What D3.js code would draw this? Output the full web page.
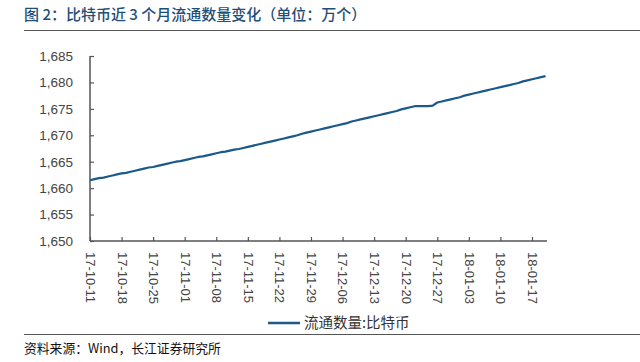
<!DOCTYPE html>
<html>
<head>
<meta charset="utf-8">
<script src="https://cdn.jsdelivr.net/npm/d3@7"></script>
<style>
  body { margin: 0; background: #fff; }
  svg { display: block; font-family: "Liberation Sans", Arial, "Noto Sans CJK SC", sans-serif; }
</style>
</head>
<body>
<div id="chart"></div>
<script>
// chart size
const width = 640;
const height = 362;

// data: daily circulating supply (万个), from 2017-10-11 to 2018-01-20
const startDate = "2017-10-11";
const supply = [
  1661.5, 1661.7, 1661.9, 1662.0, 1662.2, 1662.4, 1662.6, 1662.8, 1662.9, 1663.1,
  1663.3, 1663.5, 1663.7, 1663.9, 1664.0, 1664.2, 1664.4, 1664.6, 1664.8, 1665.0,
  1665.1, 1665.3, 1665.5, 1665.7, 1665.9, 1666.0, 1666.2, 1666.4, 1666.6, 1666.8,
  1666.9, 1667.1, 1667.3, 1667.4, 1667.6, 1667.8, 1668.0, 1668.2, 1668.4, 1668.6,
  1668.8, 1669.0, 1669.2, 1669.4, 1669.6, 1669.8, 1670.0, 1670.3, 1670.5, 1670.7,
  1670.9, 1671.1, 1671.3, 1671.5, 1671.7, 1671.9, 1672.1, 1672.3, 1672.6, 1672.8,
  1673.0, 1673.2, 1673.4, 1673.6, 1673.8, 1674.0, 1674.2, 1674.4, 1674.6, 1674.9,
  1675.1, 1675.3, 1675.5, 1675.5, 1675.5, 1675.5, 1675.6, 1676.2, 1676.4, 1676.6,
  1676.8, 1677.0, 1677.2, 1677.5, 1677.7, 1677.9, 1678.1, 1678.3, 1678.5, 1678.7,
  1678.9, 1679.1, 1679.3, 1679.5, 1679.7, 1679.9, 1680.2, 1680.4, 1680.6, 1680.8,
  1681.0, 1681.2
];
const xTickLabels = [
  "2017-10-11", "2017-10-18", "2017-10-25", "2017-11-01", "2017-11-08",
  "2017-11-15", "2017-11-22", "2017-11-29", "2017-12-06", "2017-12-13",
  "2017-12-20", "2017-12-27", "2018-01-03", "2018-01-10", "2018-01-17"
];
const yTicks = [1650, 1655, 1660, 1665, 1670, 1675, 1680, 1685];

const parse = d3.timeParse("%Y-%m-%d");
const t0 = parse(startDate);
const data = supply.map((v, i) => ({ date: d3.timeDay.offset(t0, i), value: v }));

// plot area
const plot = { left: 90, right: 547, top: 56, bottom: 241 };

const x = d3.scaleTime()
    .domain([t0, d3.timeDay.offset(t0, supply.length - 1)])
    .range([plot.left, plot.right - 1.5]);

const y = d3.scaleLinear()
    .domain([1650, 1685])
    .range([plot.bottom, plot.top]);

const svg = d3.select("#chart")
    .append("svg")
    .attr("width", width)
    .attr("height", height);

// title + header rule
svg.append("text")
    .attr("x", 24)
    .attr("y", 20)
    .attr("fill", "#1f4e79")
    .attr("font-size", 15)
    .attr("font-weight", 500)
    .attr("font-family", "'Noto Sans CJK SC', sans-serif")
    .text("图 2：比特币近 3 个月流通数量变化（单位：万个）");

svg.append("line")
    .attr("x1", 24).attr("x2", 640)
    .attr("y1", 30.5).attr("y2", 30.5)
    .attr("stroke", "#555")
    .attr("stroke-width", 1);

// y axis
const yAxis = d3.axisLeft(y)
    .tickValues(yTicks)
    .tickSize(-4)
    .tickPadding(17)
    .tickFormat(d3.format(","));

const gy = svg.append("g")
    .attr("transform", `translate(${plot.left},0)`)
    .call(yAxis);
gy.select(".domain").attr("stroke", "#555").attr("stroke-width", 1.5)
    .attr("d", `M0,${plot.top}V${plot.bottom}`);
gy.selectAll(".tick line").attr("stroke", "#555").attr("stroke-width", 1.2);
gy.selectAll(".tick text")
    .attr("fill", "#444")
    .attr("font-size", 13.5);

// x axis
const xAxis = d3.axisBottom(x)
    .tickValues(xTickLabels.map(parse))
    .tickSize(-4)
    .tickFormat(d3.timeFormat("%y-%m-%d"));

const gx = svg.append("g")
    .attr("transform", `translate(0,${plot.bottom})`)
    .call(xAxis);
gx.select(".domain").attr("stroke", "#555").attr("stroke-width", 1.5)
    .attr("d", `M${plot.left},0H${plot.right}`);
gx.selectAll(".tick line").attr("stroke", "#555").attr("stroke-width", 1.2);
gx.selectAll(".tick text")
    .attr("fill", "#444")
    .attr("font-size", 13)
    .attr("text-anchor", "start")
    .attr("dy", "0.35em")
    .attr("transform", "translate(0,11) rotate(90)")
    .attr("x", 0)
    .attr("y", 0);

// series line
const line = d3.line()
    .x(d => x(d.date))
    .y(d => y(d.value));

svg.append("path")
    .datum(data)
    .attr("fill", "none")
    .attr("stroke", "#1a5a8a")
    .attr("stroke-width", 2.2)
    .attr("stroke-linejoin", "round")
    .attr("d", line);

// legend
svg.append("line")
    .attr("x1", 268).attr("x2", 300)
    .attr("y1", 323).attr("y2", 323)
    .attr("stroke", "#1a5a8a")
    .attr("stroke-width", 2.5);

svg.append("text")
    .attr("x", 304)
    .attr("y", 328)
    .attr("fill", "#333")
    .attr("font-size", 14.5)
    .attr("font-family", "'Noto Sans CJK SC', sans-serif")
    .text("流通数量:比特币");

// footer rule + source
svg.append("line")
    .attr("x1", 24).attr("x2", 640)
    .attr("y1", 334.5).attr("y2", 334.5)
    .attr("stroke", "#555")
    .attr("stroke-width", 1);

svg.append("text")
    .attr("x", 24)
    .attr("y", 353)
    .attr("fill", "#111")
    .attr("font-size", 12.8)
    .attr("font-family", "'Noto Sans CJK SC', sans-serif")
    .text("资料来源：Wind，长江证券研究所");
</script>
</body>
</html>
